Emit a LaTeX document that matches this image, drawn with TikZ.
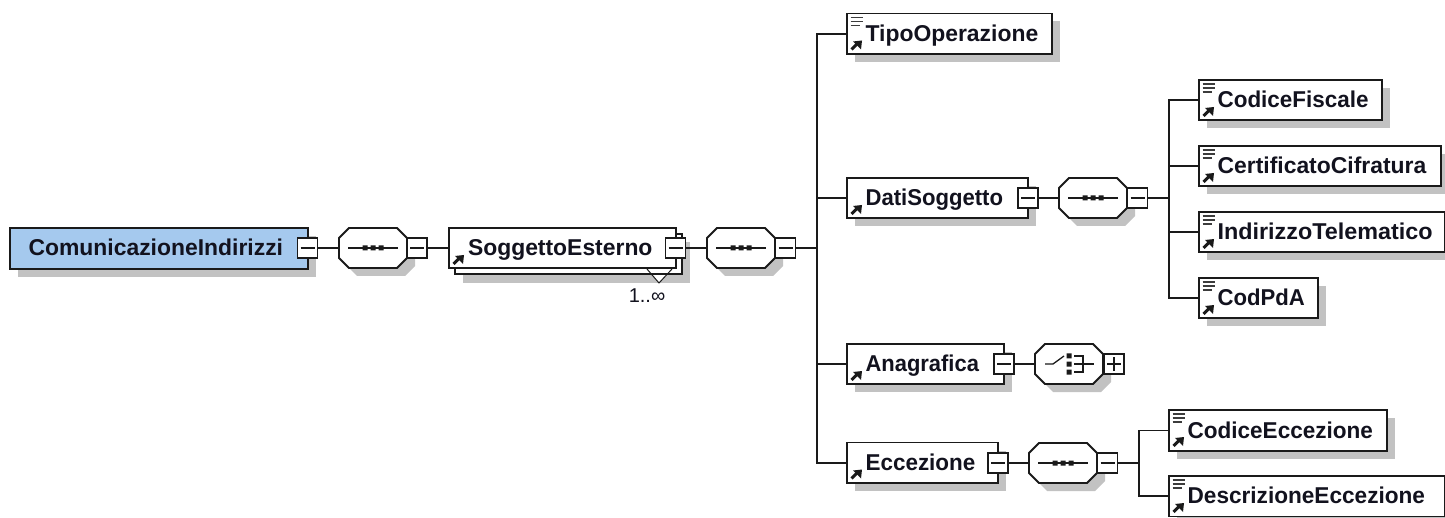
\documentclass[tikz,border=0pt]{standalone}
\usepackage{fontspec}
\setmainfont{Liberation Sans}
\definecolor{rootblue}{HTML}{A5C9EE}
\definecolor{shadowgray}{HTML}{C2C2C2}
\definecolor{inkdark}{HTML}{1A1A1A}
\definecolor{labelink}{HTML}{12121E}
\tikzset{
  boxline/.style={draw=inkdark,line width=1.9pt},
  elembox/.style={boxline,rectangle,fill=white,inner sep=0pt,outer sep=0pt},
  rootbox/.style={elembox,fill=rootblue},
  elemlabel/.style={anchor=base west,inner sep=0pt,outer sep=0pt,text=labelink,font=\fontsize{22.9}{24}\selectfont\bfseries},
  occurs/.style={anchor=center,inner sep=0pt,text=labelink,font=\fontsize{20}{22}\selectfont},
  togglebox/.style={boxline,rectangle,fill=white,inner sep=0pt,outer sep=0pt,minimum width=20pt,minimum height=20pt},
  octaanchor/.style={rectangle,draw=none,inner sep=0pt,outer sep=0pt,minimum width=68pt,minimum height=40pt},
  wire/.style={draw=inkdark,line width=1.8pt},
  thinwire/.style={draw=inkdark,line width=1.3pt},
  glyph/.style={fill=inkdark,draw=none}
}
\newcommand{\hfit}[2]{\scalebox{#1}[1]{#2}}
\newcommand{\shadowrect}[4]{\fill[shadowgray] (#1+8,#2+8) rectangle (#3+8,#4+8);}
\newcommand{\plainbox}[7]{% name x1 y1 x2 y2 text style
  \shadowrect{#2}{#3}{#4}{#5}
  \node[#7,anchor=north west,minimum width={(#4-#2)*1pt},minimum height={(#5-#3)*1pt}] (#1) at (#2,#3) {};
  \node[elemlabel] (#1-label) at (#2+18.6,{(#3+#5)/2+7.5}) {#6};
}
\newcommand{\refmark}[2]{\begin{scope}[shift={(#1,#2)}]
  \draw[inkdark,line width=3pt] (4.5,36) -- (10,30.5);
  \fill[inkdark] (15,27) -- (6,28) -- (14,36) -- cycle;
\end{scope}}
\newcommand{\docmark}[2]{\begin{scope}[shift={(#1,#2)}]
  \draw[inkdark!85,line width=1.6pt] (3.5,4) -- (15.5,4) (3.5,8) -- (15.5,8) (3.5,12) -- (12.5,12);
\end{scope}}
\newcommand{\refbox}[6]{\plainbox{#1}{#2}{#3}{#4}{#5}{#6}{elembox}\refmark{#2}{#3}}
\newcommand{\leafbox}[6]{\plainbox{#1}{#2}{#3}{#4}{#5}{#6}{elembox}\refmark{#2}{#3}\docmark{#2}{#3}}
\newcommand{\minusbox}[3]{% name cx cy
  \node[togglebox] (#1) at (#2,#3) {};
  \draw[thinwire] ([xshift=-7pt]#1.center) -- ([xshift=7pt]#1.center);
}
\newcommand{\plusbox}[3]{%
  \node[togglebox] (#1) at (#2,#3) {};
  \draw[thinwire] ([xshift=-7pt]#1.center) -- ([xshift=7pt]#1.center) ([yshift=-7pt]#1.center) -- ([yshift=7pt]#1.center);
}
\newcommand{\octapath}{(-34,-10) -- (-24,-20) -- (24,-20) -- (34,-10) -- (34,10) -- (24,20) -- (-24,20) -- (-34,10) -- cycle}
\newcommand{\octabase}[3]{%
  \begin{scope}[shift={(#2+8,#3+8)}]\fill[shadowgray] \octapath;\end{scope}
  \begin{scope}[shift={(#2,#3)}]\filldraw[boxline,fill=white] \octapath;\end{scope}
  \node[octaanchor] (#1) at (#2,#3) {};
}
\newcommand{\seqoct}[3]{% name cx cy
  \octabase{#1}{#2}{#3}
  \draw[thinwire] ([xshift=-25pt]#1.center) -- ([xshift=25pt]#1.center);
  \begin{scope}[shift={(#2,#3)}]
    \fill[glyph] (-10.5,-2.5) rectangle (-5.5,2.5) (-2.5,-2.5) rectangle (2.5,2.5) (5.5,-2.5) rectangle (10.5,2.5);
  \end{scope}
}
\newcommand{\choiceoct}[3]{%
  \octabase{#1}{#2}{#3}
  \begin{scope}[shift={(#2,#3)}]
    \draw[thinwire] (-24,0) -- (-16,0) -- (-5,-8);
    \fill[glyph] (-2.5,-10.5) rectangle (2.5,-5.5) (-2.5,-2.5) rectangle (2.5,2.5) (-2.5,5.5) rectangle (2.5,10.5);
    \draw[thinwire] (5,-8) -- (14,-8) -- (14,8) -- (5,8) (5,0) -- (25,0);
  \end{scope}
}
\begin{document}
\begin{tikzpicture}[x=1pt,y=-1pt]
\useasboundingbox (0,0) rectangle (1445,518);
\fill[white] (0,0) rectangle (1445,518);

% root
\plainbox{root}{10}{228}{308}{269}{ComunicazioneIndirizzi}{rootbox}
\minusbox{rootm}{307.5}{248}
\seqoct{seqa}{373}{248}
\minusbox{seqam}{417}{248}

% repeated element
\shadowrect{455}{234}{682}{275}
\node[elembox,anchor=north west,minimum width=227pt,minimum height=40pt] (sogback) at (455,234) {};
\coordinate (vl) at (647,269);
\coordinate (vt) at (659,283);
\coordinate (vr) at (672,269);
\fill[white] (vl) -- (vt) -- (vr) -- cycle;
\draw[inkdark,line width=1pt] (vl) -- (vt) -- (vr);
\draw[boxline] (sogback.south west) -- (sogback.south east);
\node[elembox,anchor=north west,minimum width=227pt,minimum height=40pt] (sog) at (449,228) {};
\node[elemlabel] (sog-label) at (468,255.5) {SoggettoEsterno};
\refmark{449}{228}
\minusbox{sogm}{675.5}{248}
\node[occurs] (sogocc) at (647,296) {1..∞};
\seqoct{seqb}{741}{248}
\minusbox{seqbm}{785.5}{248}
\coordinate (trunka) at (817,248);

% first level
\leafbox{tipo}{847}{13.5}{1052}{54}{TipoOperazione}
\refbox{dati}{847}{178}{1028}{218}{\hfit{0.965}{DatiSoggetto}}
\minusbox{datim}{1028}{198}
\seqoct{seqc}{1093}{198}
\minusbox{seqcm}{1137.5}{198}
\coordinate (trunkb) at (1169,198);

\refbox{ana}{847}{344}{1004}{384}{\hfit{0.958}{Anagrafica}}
\minusbox{anam}{1004}{364}
\choiceoct{choice}{1069}{364}
\plusbox{choicep}{1114}{364}

\refbox{ecc}{847}{442.5}{998}{483}{\hfit{0.98}{Eccezione}}
\minusbox{eccm}{998}{463}
\seqoct{seqd}{1063}{463}
\minusbox{seqdm}{1107.5}{463}
\coordinate (trunkc) at (1139,463);

% second level
\leafbox{cf}{1199}{80}{1382}{120}{\hfit{0.98}{CodiceFiscale}}
\leafbox{cert}{1199}{146}{1441}{186}{CertificatoCifratura}
\leafbox{indir}{1199}{212}{1444.5}{252}{\hfit{1.02}{IndirizzoTelematico}}
\leafbox{pda}{1199}{278}{1318}{318}{\hfit{0.966}{CodPdA}}
\leafbox{codecc}{1169}{410}{1387}{451}{\hfit{0.984}{CodiceEccezione}}
\leafbox{descr}{1169}{476}{1444.5}{516.5}{\hfit{0.987}{DescrizioneEccezione}}

% connectors
\draw[wire] (rootm.east) -- (seqa.west);
\draw[wire] (seqam.east) -- (sog.west);
\draw[wire] (sogm.east) -- (seqb.west);
\draw[wire] (seqbm.east) -- (trunka);
\draw[wire] (trunka) |- (tipo.west);
\draw[wire] (trunka) |- (dati.west);
\draw[wire] (trunka) |- (ana.west);
\draw[wire] (trunka) |- (ecc.west);
\draw[wire] (datim.east) -- (seqc.west);
\draw[wire] (seqcm.east) -- (trunkb);
\draw[wire] (trunkb) |- (cf.west);
\draw[wire] (trunkb) |- (cert.west);
\draw[wire] (trunkb) |- (indir.west);
\draw[wire] (trunkb) |- (pda.west);
\draw[wire] (anam.east) -- (choice.west);
\draw[wire] (eccm.east) -- (seqd.west);
\draw[wire] (seqdm.east) -- (trunkc);
\draw[wire] (trunkc) |- (codecc.west);
\draw[wire] (trunkc) |- (descr.west);
\end{tikzpicture}
\end{document}
